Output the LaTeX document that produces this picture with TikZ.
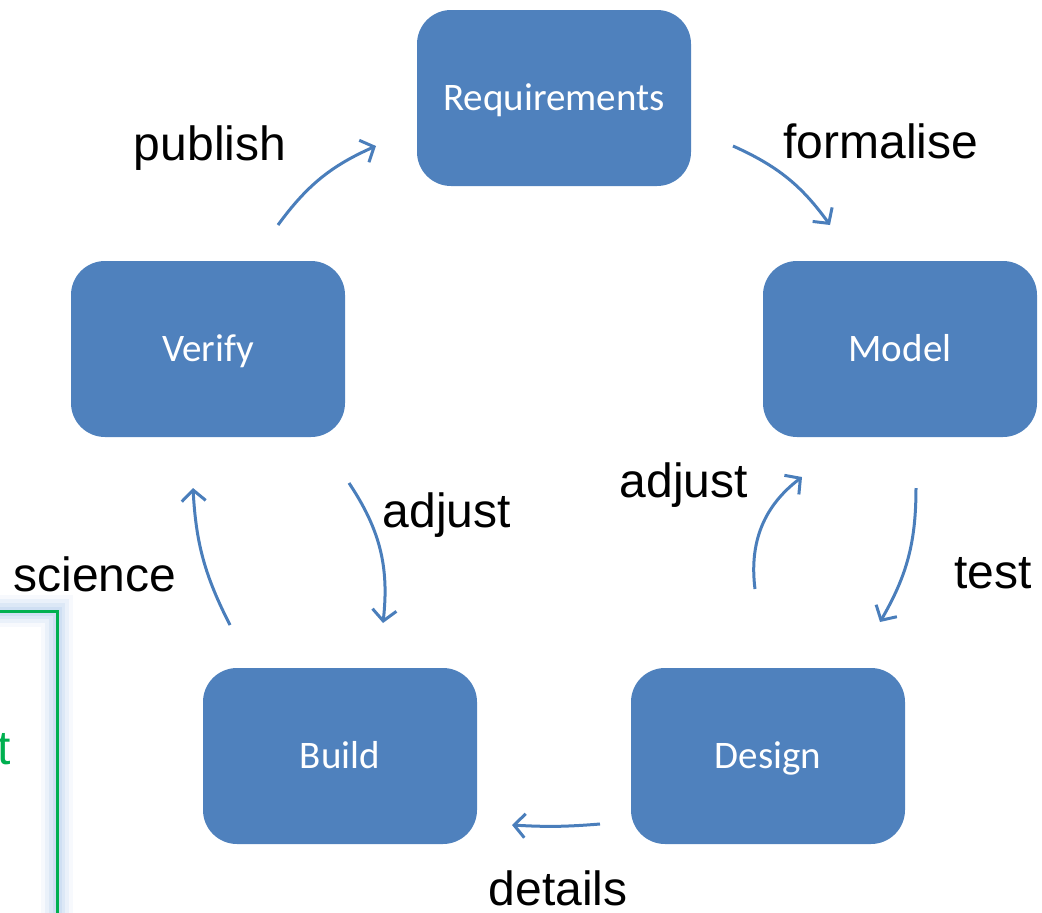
\documentclass[tikz,border=0pt]{standalone}
\usepackage{fontspec}
\setmainfont{Liberation Sans}
\newfontfamily\boxfont{Carlito}
\usetikzlibrary{arrows.meta}
\definecolor{boxblue}{HTML}{4F81BD}
\definecolor{arrblue}{HTML}{4A7EBB}
\definecolor{grn}{HTML}{00B050}
\definecolor{glow}{HTML}{C6D9F1}
\tikzset{
  stagebox/.style={fill=boxblue, rounded corners=34pt, minimum width=274pt, minimum height=176pt,
    inner sep=0pt, text height=25pt, text depth=0pt, text=white, font=\boxfont\fontsize{39}{46}\selectfont},
  flow/.style={draw=arrblue, line width=3pt, -{Straight Barb[length=11pt,width=24pt,line width=3pt]}},
  lbl/.style={anchor=base, inner sep=0pt, font=\fontsize{48}{56}\selectfont},
}
\begin{document}
\begin{tikzpicture}[x=1pt,y=-1pt]
\useasboundingbox (0,0) rectangle (1042,913);
% partial green box with glow
\foreach \w/\o in {32/0.15,24/0.25,16/0.4,9/0.6}{
  \draw[glow, line width=\w pt, opacity=\o] (-20,611) -- (57,611) -- (57,930);
}
\draw[grn, line width=3pt] (-5,611) -- (57,611) -- (57,930);
\node[anchor=base west, inner sep=0pt, text=grn, font=\fontsize{48}{56}\selectfont] (gt) at (-3,764) {t};
% boxes
\node[stagebox] (req) at (554,98) {Requirements};
\node[stagebox] (ver) at (208,349) {Verify};
\node[stagebox] (mod) at (900,349) {Model};
\node[stagebox] (bld) at (340,756) {Build};
\node[stagebox] (des) at (768,756) {Design};
% arrow endpoints
\coordinate (p1) at (278,225); \coordinate (p2) at (376,146);
\coordinate (f1) at (733,146); \coordinate (f2) at (830,225);
\coordinate (t1) at (916,488); \coordinate (t2) at (880,622);
\coordinate (d1) at (600,824); \coordinate (d2) at (512,825);
\coordinate (s1) at (230,625); \coordinate (s2) at (193,488);
\coordinate (a1) at (349,483); \coordinate (a2) at (383,623);
\coordinate (b1) at (755,589); \coordinate (b2) at (802,477);
\draw[flow] (p1) to[bend left=15] (p2);
\draw[flow] (f1) to[bend left=15] (f2);
\draw[flow] (t1) to[bend left=15] (t2);
\draw[flow] (d1) to[bend left=4] (d2);
\draw[flow] (s1) to[bend left=12] (s2);
\draw[flow] (a1) to[bend left=20] (a2);
\draw[flow] (b1) to[bend left=30] (b2);
% labels
\node[lbl] (lp) at (210,160) {publish};
\node[lbl] (lf) at (881,158) {formalise};
\node[lbl] (lt) at (993,588) {test};
\node[lbl] (ld) at (558,905) {details};
\node[lbl] (ls) at (95,591) {science};
\node[lbl] (la) at (447,527) {adjust};
\node[lbl] (lb) at (684,497) {adjust};
\end{tikzpicture}
\end{document}
